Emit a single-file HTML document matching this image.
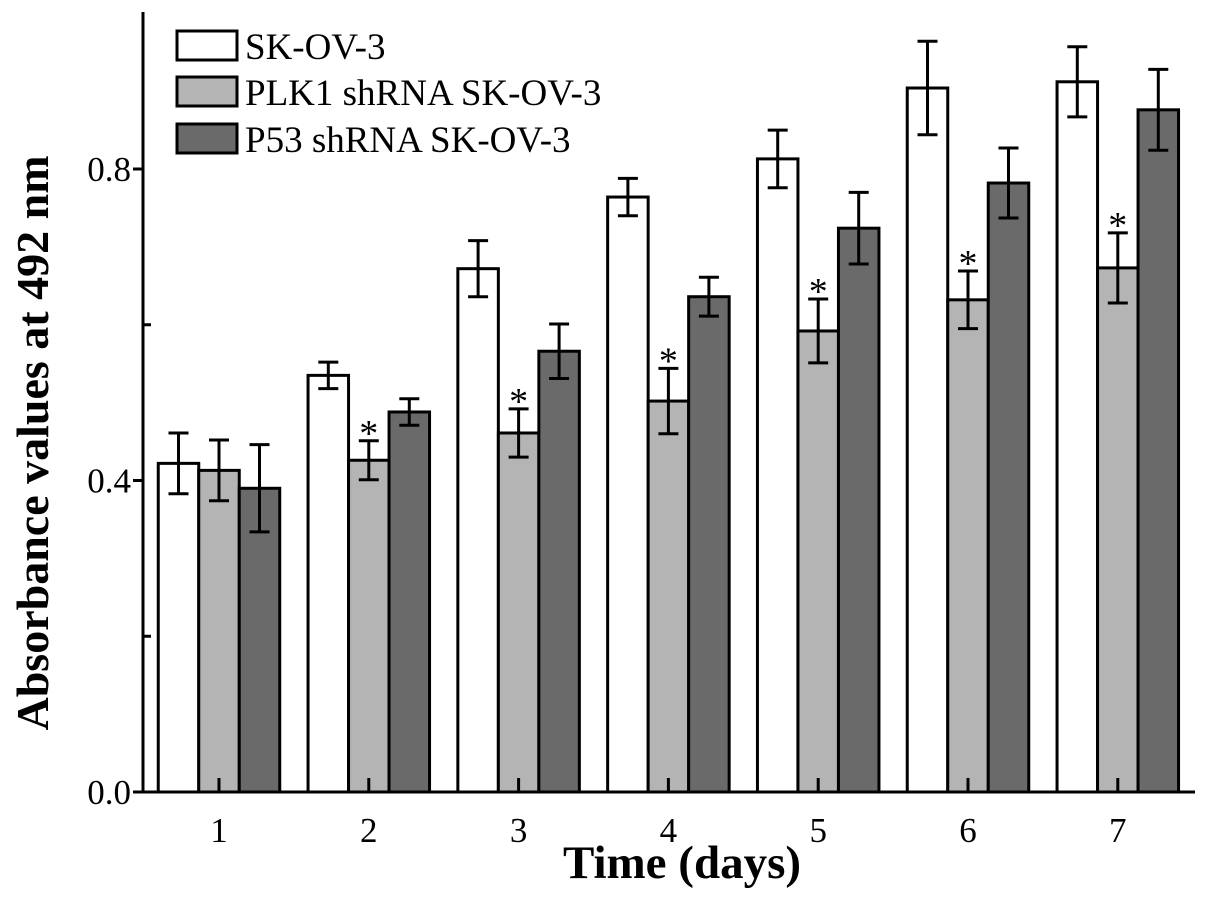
<!DOCTYPE html>
<html><head><meta charset="utf-8"><style>
html,body{margin:0;padding:0;background:#fff}
svg{display:block;font-family:"Liberation Serif",serif}
</style></head><body>
<svg id="chart" width="1205" height="914"></svg>
<script>
const categories=["1","2","3","4","5","6","7"];
const skov3=[0.422,0.535,0.672,0.764,0.813,0.904,0.912];
const skov3Err=[0.039,0.017,0.036,0.024,0.037,0.06,0.045];
const plk1=[0.413,0.426,0.461,0.502,0.592,0.632,0.673];
const plk1Err=[0.039,0.025,0.031,0.042,0.041,0.037,0.045];
const p53=[0.390,0.488,0.566,0.636,0.724,0.782,0.876];
const p53Err=[0.056,0.017,0.035,0.025,0.046,0.045,0.052];
const starred=[false,true,true,true,true,true,true];
const yTicks=[0.0,0.4,0.8];
const yMinor=[0.2,0.6];
const seriesNames=["SK-OV-3","PLK1 shRNA SK-OV-3","P53 shRNA SK-OV-3"];
const fills=["#ffffff","#b4b4b4","#6a6a6a"];

const NS="http://www.w3.org/2000/svg";
const svg=document.getElementById('chart');
const X0=143,Y0=792,XR=1195,YT=12;
const yS=v=>Y0-v*778.75;
const xC=i=>219+i*149.8;
const BW=40.5;
function mk(t,a,p){const e=document.createElementNS(NS,t);for(const k in a)e.setAttribute(k,a[k]);(p||svg).appendChild(e);return e;}

const series=[skov3,plk1,p53],errs=[skov3Err,plk1Err,p53Err];
series.forEach((vals,s)=>{
  vals.forEach((v,i)=>{
    const x=xC(i)+(s-1)*BW-BW/2;
    const r=mk('rect',{x:x,y:yS(v),width:BW,height:Y0-yS(v),fill:fills[s],stroke:'#000','stroke-width':3});
    
    
  });
});
series.forEach((vals,s)=>{
  vals.forEach((v,i)=>{
    const cx=xC(i)+(s-1)*BW, e=errs[s][i];
    const g=mk('g',{stroke:'#000','stroke-width':3});
    
    
    mk('line',{x1:cx,x2:cx,y1:yS(v+e),y2:yS(v-e)},g);
    mk('line',{x1:cx-10,x2:cx+10,y1:yS(v+e),y2:yS(v+e)},g);
    mk('line',{x1:cx-10,x2:cx+10,y1:yS(v-e),y2:yS(v-e)},g);
  });
});
starred.forEach((st,i)=>{
  if(!st)return;
  const t=mk('text',{x:xC(i),y:yS(plk1[i]+plk1Err[i])+5,'text-anchor':'middle','font-size':38});
  t.textContent='*';
  
  
});
const ax=mk('path',{d:`M${X0},${YT} V${Y0} H${XR}`,fill:'none',stroke:'#000','stroke-width':3});


yTicks.forEach(v=>{
  mk('line',{x1:X0-10,x2:X0,y1:yS(v),y2:yS(v),stroke:'#000','stroke-width':3});
  const t=mk('text',{x:X0-12,y:yS(v)+12,'text-anchor':'end','font-size':35});
  t.textContent=v.toFixed(1);
  
  
});
yMinor.forEach(v=>mk('line',{x1:X0,x2:X0+8,y1:yS(v),y2:yS(v),stroke:'#000','stroke-width':3}));
categories.forEach((c,i)=>{
  mk('line',{x1:xC(i),x2:xC(i),y1:Y0,y2:Y0-14,stroke:'#000','stroke-width':3});
  const t=mk('text',{x:xC(i),y:Y0+50,'text-anchor':'middle','font-size':35});
  t.textContent=c;
  
  
});
const xt=mk('text',{x:682,y:878,'text-anchor':'middle','font-size':47,'font-weight':'bold'});
xt.textContent='Time (days)';


const yt=mk('text',{x:0,y:0,'text-anchor':'middle','font-size':46,'font-weight':'bold',transform:'translate(48,443) rotate(-90)'});
yt.textContent='Absorbance values at 492 nm';


const ly=[31,77,124];
seriesNames.forEach((n,s)=>{
  const g=mk('g',{});
  
  
  mk('rect',{x:177,y:ly[s],width:60,height:29,fill:fills[s],stroke:'#000','stroke-width':3},g);
  const t=mk('text',{x:245,y:ly[s]+28,'font-size':37},g);
  t.textContent=n;
});
</script>
</body></html>
